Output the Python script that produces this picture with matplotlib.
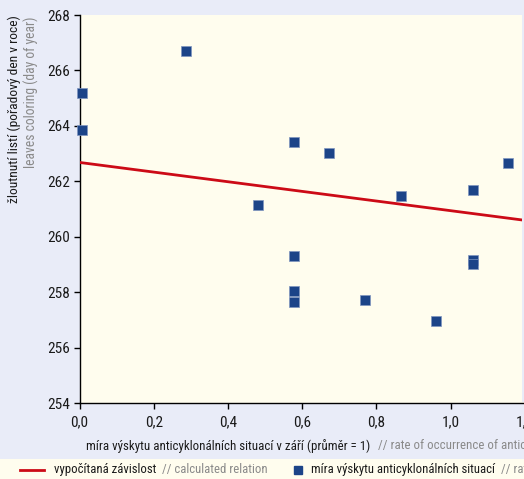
import matplotlib
matplotlib.use("Agg")
import matplotlib.pyplot as plt
from matplotlib import font_manager as fm
from matplotlib.patches import Rectangle
from matplotlib.lines import Line2D
from matplotlib.ticker import FuncFormatter

# --- data -------------------------------------------------------------
anticyclone_rate = [0.007, 0.007, 0.288, 0.481, 0.578, 0.578, 0.578, 0.578,
                    0.672, 0.769, 0.867, 0.962, 1.061, 1.061, 1.061, 1.155]
leaf_coloring_day = [265.2, 263.84, 266.71, 261.15, 263.4, 259.3, 258.05, 257.66,
                     263.02, 257.71, 261.47, 256.96, 261.68, 259.15, 259.0, 262.67]

fit_intercept = 262.68
fit_slope = -1.74

x_ticks = [0.0, 0.2, 0.4, 0.6, 0.8, 1.0, 1.2]
y_ticks = [254, 256, 258, 260, 262, 264, 266, 268]


# --- font: prefer a narrow sans ----------------------------------------
def pick_font():
    entries = fm.fontManager.ttflist
    def regular(f):
        return f.style == "normal" and f.weight in (400, "normal", "regular", "book")
    for want in ("Liberation Sans Narrow", "Roboto Condensed", "Open Sans Condensed"):
        for f in entries:
            if f.name == want and regular(f):
                return f.name, "normal"
    for f in entries:
        if f.name == "DejaVu Sans" and f.stretch == "condensed" and regular(f):
            return "DejaVu Sans", "condensed"
    for f in entries:
        if f.name == "Liberation Sans":
            return "Liberation Sans", "normal"
    return "DejaVu Sans", "normal"


FAMILY, STRETCH = pick_font()
plt.rcParams["font.family"] = [FAMILY, "DejaVu Sans"]
plt.rcParams["font.stretch"] = STRETCH

BG = "#e9ecf8"
PLOT_BG = "#fffdee"
BLUE = "#1c4488"
RED = "#cc0a16"
DARK = "#1a1a1a"
GREY = "#8a8a8a"

W, H = 524, 479
fig = plt.figure(figsize=(W / 100, H / 100), dpi=100, facecolor=BG)


def fx(px):
    return px / W


def fy(py):
    return 1 - py / H


x0_px, unit_px = 79.5, 371.0
top_px, bot_px = 15.0, 403.0
xmax = 1.4
ax = fig.add_axes([fx(x0_px), fy(bot_px), fx(unit_px * xmax), (bot_px - top_px) / H])
ax.set_facecolor(PLOT_BG)
ax.set_xlim(0, xmax)
ax.set_ylim(254, 268)
for s in ("top", "right"):
    ax.spines[s].set_visible(False)
for s in ("left", "bottom"):
    ax.spines[s].set_color("black")
    ax.spines[s].set_linewidth(1.0)

ax.set_xticks(x_ticks)
ax.set_yticks(y_ticks)
ax.xaxis.set_major_formatter(FuncFormatter(lambda v, p: f"{v:.1f}".replace(".", ",")))
ax.tick_params(axis="both", direction="out", length=4, width=1, colors="black",
               labelsize=11, labelcolor=DARK)
ax.tick_params(axis="x", pad=5)
ax.tick_params(axis="y", pad=3)

# regression line
lx = [0.0, xmax]
ly = [fit_intercept + fit_slope * v for v in lx]
ax.plot(lx, ly, color=RED, lw=2.0, zorder=3)

# observations
ax.scatter(anticyclone_rate, leaf_coloring_day, marker="s", s=62, color=BLUE,
           edgecolor="#7f95bf", linewidth=0.5, zorder=4, clip_on=False)

# narrow background strip on the right of the plot area
fig.add_artist(Rectangle((fx(522), fy(bot_px - 1)), fx(3), (bot_px - 1 - top_px) / H,
                         transform=fig.transFigure, facecolor=BG, edgecolor="none",
                         zorder=10))

# y-axis titles
fig.text(fx(14), fy(top_px), "žloutnutí listí (pořadový den v roce)", rotation=90,
         ha="center", va="top", fontsize=9.7, color=DARK)
fig.text(fx(31), fy(top_px + 1), "leaves coloring (day of year)", rotation=90,
         ha="center", va="top", fontsize=9.8, color=GREY)

renderer = fig.canvas.get_renderer()


def two_tone(x_px, y_px, dark, light, size, gap=6):
    t1 = fig.text(fx(x_px), fy(y_px), dark, ha="left", va="center",
                  fontsize=size, color=DARK)
    bb = t1.get_window_extent(renderer=renderer)
    fig.text(fx(bb.x1 + gap), fy(y_px), light, ha="left", va="center",
             fontsize=size, color=GREY)


# x-axis title
two_tone(86, 446, "míra výskytu anticyklonálních situací v září (průměr = 1)",
         "// rate of occurrence of anticyclonic", 9.3, gap=8)

# legend strip
fig.add_artist(Rectangle((0, 0), 1, fy(459), transform=fig.transFigure,
                         facecolor=PLOT_BG, edgecolor="none", zorder=0))
fig.add_artist(Line2D([fx(20), fx(44)], [fy(470), fy(470)], transform=fig.transFigure,
                      color=RED, lw=2.0))
two_tone(54, 470, "vypočítaná závislost", "// calculated relation", 9.2)
fig.add_artist(Line2D([fx(298)], [fy(470)], transform=fig.transFigure, marker="s",
                      markersize=6, color=BLUE, linestyle="none"))
two_tone(311, 470, "míra výskytu anticyklonálních situací",
         "// rate", 9.2)

fig.savefig("out.png", dpi=100, facecolor=BG)
